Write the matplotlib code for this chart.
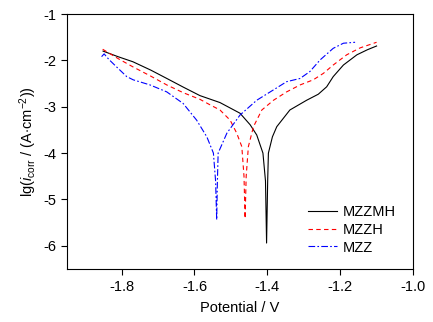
import matplotlib
matplotlib.use("Agg")
import matplotlib.pyplot as plt

plt.rcParams['font.family'] = ['Liberation Sans', 'DejaVu Sans']
plt.rcParams['mathtext.fontset'] = 'custom'
plt.rcParams['mathtext.rm'] = 'Liberation Sans'
plt.rcParams['mathtext.it'] = 'Liberation Sans:italic'

# MZZMH (black solid)
mzzmh_v = [-1.851, -1.810, -1.769, -1.720, -1.676, -1.630, -1.585, -1.530, -1.475, -1.447,
           -1.429, -1.412, -1.405, -1.402, -1.399, -1.397, -1.386, -1.374, -1.338, -1.292,
           -1.260, -1.237, -1.219, -1.191, -1.154, -1.125, -1.100]
mzzmh_lg = [-1.80, -1.92, -2.03, -2.21, -2.39, -2.58, -2.76, -2.91, -3.14, -3.39,
            -3.61, -4.00, -4.60, -5.94, -4.60, -4.00, -3.65, -3.43, -3.07, -2.86,
            -2.73, -2.57, -2.35, -2.10, -1.88, -1.77, -1.69]

# MZZH (red dashed)
mzzh_v = [-1.852, -1.810, -1.769, -1.720, -1.676, -1.630, -1.585, -1.557, -1.530, -1.502,
          -1.484, -1.470, -1.464, -1.461, -1.458, -1.452, -1.438, -1.415, -1.383, -1.347,
          -1.310, -1.274, -1.246, -1.219, -1.182, -1.145, -1.100]
mzzh_lg = [-1.76, -1.96, -2.14, -2.34, -2.53, -2.70, -2.84, -2.96, -3.07, -3.29,
           -3.57, -3.86, -4.50, -5.41, -4.50, -3.86, -3.43, -3.07, -2.86, -2.68,
           -2.53, -2.42, -2.28, -2.10, -1.88, -1.73, -1.61]

# MZZ (blue dash-dot)
mzz_v = [-1.855, -1.848, -1.835, -1.814, -1.786, -1.768, -1.722, -1.676, -1.631, -1.594,
         -1.566, -1.548, -1.542, -1.539, -1.537, -1.535, -1.511, -1.475, -1.429, -1.392,
         -1.347, -1.310, -1.283, -1.255, -1.219, -1.191, -1.159]
mzz_lg = [-1.92, -1.86, -1.98, -2.14, -2.35, -2.42, -2.53, -2.68, -2.93, -3.29,
          -3.65, -4.00, -4.60, -5.44, -4.60, -4.00, -3.57, -3.18, -2.86, -2.68,
          -2.46, -2.39, -2.24, -1.99, -1.74, -1.63, -1.61]

labels = ['MZZMH', 'MZZH', 'MZZ']
xticks = [-1.8, -1.6, -1.4, -1.2, -1.0]
xticklabels = ['-1.8', '-1.6', '-1.4', '-1.2', '-1.0']
yticks = [-6, -5, -4, -3, -2, -1]
yticklabels = ['-6', '-5', '-4', '-3', '-2', '-1']

fig = plt.figure(figsize=(4.33, 3.22), dpi=100)
ax = fig.add_axes([0.1547, 0.1646, 0.7991, 0.7919])

ax.plot(mzzmh_v, mzzmh_lg, color='black', lw=0.8, ls='-', label=labels[0])
ax.plot(mzzh_v, mzzh_lg, color='red', lw=0.8, ls=(0, (4, 3)), label=labels[1])
ax.plot(mzz_v, mzz_lg, color='blue', lw=0.8, ls=(0, (6, 2, 1.5, 2)), label=labels[2])

ax.set_xlim(-1.95, -1.0)
ax.set_ylim(-6.5, -1)
ax.set_xticks(xticks)
ax.set_xticklabels(xticklabels)
ax.set_yticks(yticks)
ax.set_yticklabels(yticklabels)
ax.tick_params(axis='both', direction='out', length=4.3, width=0.8, labelsize=10.5,
               top=False, right=False, pad=3.5)
for s in ax.spines.values():
    s.set_linewidth(0.8)

ax.set_xlabel('Potential / V', fontsize=10.5, labelpad=5)
ax.set_ylabel(r'lg($i_{\rm corr}$ / (A$\cdot$cm$^{-2}$))', fontsize=10.5, labelpad=3)

leg = ax.legend(loc='upper left', frameon=False, fontsize=10.5, handlelength=2.0,
                handletextpad=0.35, labelspacing=0.25, borderpad=0, borderaxespad=0,
                bbox_to_anchor=(0.697, 0.25))

fig.savefig('out.png', dpi=100)
